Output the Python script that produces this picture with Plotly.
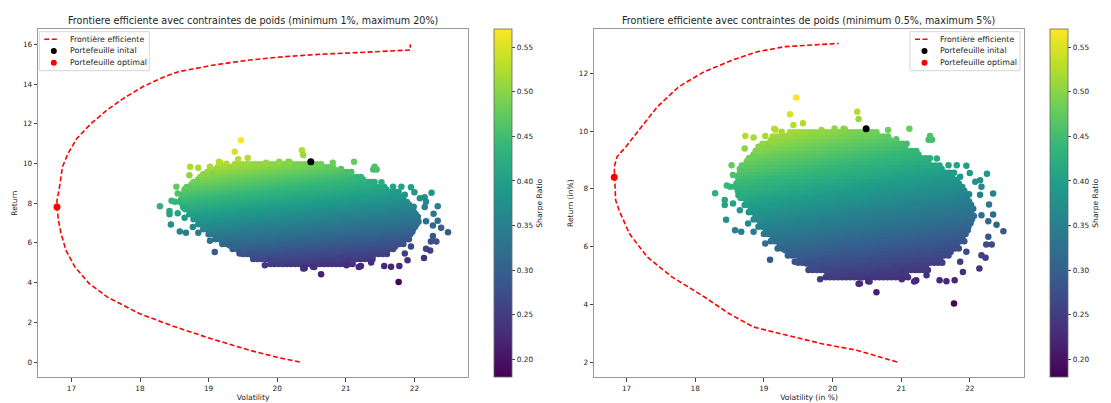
import numpy as np
import plotly.graph_objects as go

# ---------------- data ----------------
# Monte-Carlo cloud (identical in both panels): dense-body extents per return level
cloud_ret_levels = [5.00, 5.25, 5.50, 5.75, 6.00, 6.25, 6.50, 6.75, 7.00, 7.25, 7.50,
                    7.75, 8.00, 8.25, 8.50, 8.75, 9.00, 9.25, 9.50, 9.75, 9.90]
cloud_vol_min = [19.90, 19.65, 19.50, 19.35, 19.20, 19.10, 19.00, 18.92, 18.85, 18.78, 18.72,
                 18.66, 18.62, 18.60, 18.62, 18.65, 18.75, 18.85, 18.95, 19.10, 19.35]
cloud_vol_max = [21.10, 21.40, 21.60, 21.73, 21.85, 21.92, 21.97, 22.03, 22.06, 22.06, 22.04,
                 22.00, 21.93, 21.86, 21.78, 21.60, 21.42, 21.27, 21.10, 20.85, 20.65]

# isolated portfolios scattered around the dense body
outlier_vol = [19.47, 19.38, 20.36, 20.38, 20.16, 21.12, 21.40, 21.45, 21.42,
               18.73, 18.85, 19.02, 19.17, 19.15, 19.26, 19.43, 19.57, 19.84, 20.03, 20.18,
               18.72, 18.84, 18.92, 19.06, 18.53, 18.55, 18.58, 18.51, 18.55, 18.65, 18.63,
               18.29, 18.46, 18.43, 18.43, 18.45, 18.58, 18.67, 18.77, 18.85, 19.09, 19.82,
               19.02, 19.26, 19.31, 19.45, 19.62, 19.89,
               20.81, 20.93, 21.52, 21.69, 21.81, 21.73, 21.86,
               22.25, 22.15, 22.17, 22.15, 22.34, 22.28, 22.17, 22.34, 22.27, 22.39, 22.49,
               22.27, 22.24, 22.32, 22.17, 22.23, 22.14,
               21.95, 21.86, 21.90, 21.78, 21.66, 21.56, 21.37, 21.22, 21.03, 20.93,
               20.64, 21.77, 20.52, 20.40, 21.21, 20.38, 20.54, 21.01, 21.19,
               21.95, 22.00, 22.08]
outlier_ret = [11.17, 10.59, 10.67, 10.42, 10.08, 10.08, 9.70, 9.70, 9.83,
               9.83, 9.78, 9.83, 10.05, 10.08, 9.98, 10.21, 10.27, 10.04, 10.09, 10.07,
               9.40, 9.11, 9.46, 9.40, 8.82, 8.48, 8.07, 8.07, 7.49, 7.26, 7.78,
               7.85, 8.12, 7.61, 7.44, 6.93, 6.57, 6.51, 6.80, 6.51, 5.54, 4.87,
               6.11, 6.16, 5.87, 5.47, 5.41, 5.18,
               10.04, 9.72, 9.05, 8.82, 8.82, 8.53, 8.42,
               8.52, 8.30, 8.07, 7.80, 7.84, 7.46, 7.09, 7.11, 6.88, 6.76, 6.53,
               6.34, 6.07, 6.07, 5.70, 5.61, 5.24,
               5.82, 5.47, 5.12, 4.83, 4.80, 4.83, 5.01, 4.83, 5.12, 5.24,
               4.42, 4.03, 4.80, 4.72, 4.82, 4.71, 4.79, 4.87, 4.79,
               8.80, 8.55, 8.25]

# initial portfolio
init_vol, init_ret = 20.49, 10.08

# left panel: efficient frontier (min 1%, max 20%)
left_front_vol = [20.33, 20.02, 19.60, 19.03, 18.51, 17.99, 17.52, 17.26, 17.05, 16.92, 16.85,
                  16.81, 16.79, 16.79, 16.82, 16.87, 16.95, 17.08, 17.29, 17.52, 17.76, 18.04,
                  18.33, 18.56, 19.08, 19.60, 20.12, 20.64, 21.16, 21.94, 21.94]
left_front_ret = [0.00, 0.22, 0.59, 1.18, 1.77, 2.44, 3.28, 3.95, 4.79, 5.63, 6.47,
                  7.14, 7.81, 8.15, 8.66, 9.83, 10.50, 11.26, 12.02, 12.69, 13.28, 13.86,
                  14.33, 14.62, 14.96, 15.21, 15.38, 15.50, 15.58, 15.71, 16.00]
left_opt_vol, left_opt_ret = 16.79, 7.81

# right panel: efficient frontier (min 0.5%, max 5%)
right_front_vol = [20.94, 20.35, 19.83, 19.31, 18.85, 18.49, 18.13, 17.66, 17.30, 17.04, 16.89,
                   16.84, 16.82, 16.82, 16.86, 16.99, 17.20, 17.45, 17.76, 18.13, 18.54, 18.90,
                   19.31, 19.68, 20.09]
right_front_ret = [2.00, 2.41, 2.64, 2.93, 3.21, 3.68, 4.26, 4.95, 5.64, 6.45, 7.26,
                   7.61, 8.40, 8.76, 9.11, 9.46, 10.10, 10.85, 11.54, 12.06, 12.46, 12.75,
                   12.93, 12.99, 13.04]
right_opt_vol, right_opt_ret = 16.82, 8.40

titles = ["Frontiere efficiente avec contraintes de poids (minimum 1%, maximum 20%)",
          "Frontiere efficiente avec contraintes de poids (minimum 0.5%, maximum 5%)"]
x_titles = ["Volatility", "Volatility (in %)"]
y_titles = ["Return", "Return (in%)"]
legend_labels = ["Frontière efficiente", "Portefeuille inital", "Portefeuille optimal"]
x_ticks = [17, 18, 19, 20, 21, 22]
left_y_ticks = [0, 2, 4, 6, 8, 10, 12, 14, 16]
right_y_ticks = [2, 4, 6, 8, 10, 12]
cbar_ticks = [0.20, 0.25, 0.30, 0.35, 0.40, 0.45, 0.50, 0.55]

# ---------------- build the cloud markers ----------------
vols, rets = [], []
for k, (r, lo, hi) in enumerate(zip(cloud_ret_levels, cloud_vol_min, cloud_vol_max)):
    for j, dr in enumerate((-0.0625, 0.0625)):
        off = 0.03 if (2 * k + j) % 2 else 0.0
        for v in np.arange(lo + off, hi + 1e-9, 0.06):
            vols.append(round(float(v), 3))
            rets.append(r + dr)
vols += outlier_vol
rets += outlier_ret
vols = np.array(vols)
rets = np.array(rets)
sharpe = rets / vols          # Sharpe ratio (risk-free = 0)

W, H = 1111, 403
def px_x(p): return p / W
def px_y(p): return 1 - p / H

panels = [
    dict(xd=[px_x(38.2), px_x(467.9)], xr=[16.516, 22.78], yr=[-0.77, 16.77], yt=left_y_ticks,
         fv=left_front_vol, fr=left_front_ret, ov=left_opt_vol, orr=left_opt_ret,
         cbx=px_x(494.3), leg_left=39.3),
    dict(xd=[px_x(594.0), px_x(1024.0)], xr=[16.525, 22.79], yr=[1.47, 13.54], yt=right_y_ticks,
         fv=right_front_vol, fr=right_front_ret, ov=right_opt_vol, orr=right_opt_ret,
         cbx=px_x(1050.4), leg_left=910.0),
]
ydom = [px_y(377.3), px_y(29.0)]

FONT = "DejaVu Sans"
TXT = "#222222"
fig = go.Figure()
shapes, annotations = [], []

for i, p in enumerate(panels):
    sfx = "" if i == 0 else "2"
    xa, ya = "x" + sfx, "y" + sfx
    fig.add_trace(go.Scatter(
        x=vols, y=rets, mode="markers", xaxis=xa, yaxis=ya, showlegend=False,
        marker=dict(size=6.5, color=sharpe, colorscale="Viridis", cmin=0.18, cmax=0.57,
                    line=dict(width=0),
                    colorbar=dict(x=p["cbx"], xanchor="left", xpad=0, ypad=0,
                                  y=ydom[0], yanchor="bottom", len=ydom[1] - ydom[0],
                                  lenmode="fraction", thickness=18, thicknessmode="pixels",
                                  outlinewidth=0.8, outlinecolor="#666",
                                  tickvals=cbar_ticks, ticktext=[f"{t:.2f}" for t in cbar_ticks],
                                  ticks="outside", ticklen=3.5, tickcolor="#444",
                                  tickfont=dict(size=7.3, color=TXT, family=FONT),
                                  title=dict(text="Sharpe Ratio", side="right",
                                             font=dict(size=7.6, color=TXT, family=FONT))))))
    fig.add_trace(go.Scatter(
        x=p["fv"], y=p["fr"], mode="lines", xaxis=xa, yaxis=ya, showlegend=False,
        name=legend_labels[0], line=dict(color="red", width=1.6, dash="5px,2.5px")))
    fig.add_trace(go.Scatter(
        x=[init_vol], y=[init_ret], mode="markers", xaxis=xa, yaxis=ya, showlegend=False,
        name=legend_labels[1], marker=dict(size=7, color="black")))
    fig.add_trace(go.Scatter(
        x=[p["ov"]], y=[p["orr"]], mode="markers", xaxis=xa, yaxis=ya, showlegend=False,
        name=legend_labels[2], marker=dict(size=7, color="red")))

    axcommon = dict(showgrid=False, zeroline=False, showline=True, mirror=True,
                    linecolor="#9a9a9a", linewidth=1, ticks="outside", ticklen=3.5,
                    tickcolor="#444", tickwidth=0.8,
                    tickfont=dict(size=7.3, color=TXT, family=FONT))
    fig.update_layout(**{
        "xaxis" + sfx: dict(axcommon, domain=p["xd"], range=p["xr"], anchor=ya,
                            tickvals=x_ticks,
                            title=dict(text=x_titles[i], standoff=3,
                                       font=dict(size=7.6, color=TXT, family=FONT))),
        "yaxis" + sfx: dict(axcommon, domain=ydom, range=p["yr"], anchor=xa,
                            tickvals=p["yt"],
                            title=dict(text=y_titles[i], standoff=4,
                                       font=dict(size=7.6, color=TXT, family=FONT))),
    })
    annotations.append(dict(
        text=titles[i], x=(p["xd"][0] + p["xd"][1]) / 2, y=px_y(20), xref="paper", yref="paper",
        xanchor="center", yanchor="middle", showarrow=False,
        font=dict(size=9.6, color=TXT, family=FONT)))

    # legend box (matplotlib style)
    L = p["leg_left"]
    shapes.append(dict(type="rect", xref="paper", yref="paper", layer="above",
                       x0=px_x(L), x1=px_x(L + 110), y0=px_y(70.7), y1=px_y(31.7),
                       line=dict(color="#d6d6d6", width=1), fillcolor="rgba(255,255,255,0.8)"))
    rows = [39.2, 51.0, 62.8]
    shapes.append(dict(type="line", xref="paper", yref="paper", layer="above",
                       x0=px_x(L + 5), x1=px_x(L + 20), y0=px_y(rows[0]), y1=px_y(rows[0]),
                       line=dict(color="red", width=1.6, dash="5px,2.5px")))
    for row, col in ((rows[1], "black"), (rows[2], "red")):
        cx = L + 14.5
        shapes.append(dict(type="circle", xref="paper", yref="paper", layer="above",
                           x0=px_x(cx - 3), x1=px_x(cx + 3), y0=px_y(row + 3), y1=px_y(row - 3),
                           line=dict(width=0), fillcolor=col))
    for row, lab in zip(rows, legend_labels):
        annotations.append(dict(text=lab, x=px_x(L + 28.4), y=px_y(row), xref="paper",
                                yref="paper", xanchor="left", yanchor="middle", showarrow=False,
                                font=dict(size=7.9, color=TXT, family=FONT)))

fig.update_layout(width=W, height=H, margin=dict(l=0, r=0, t=0, b=0),
                  plot_bgcolor="white", paper_bgcolor="white", showlegend=False,
                  font=dict(family=FONT, size=7.5, color=TXT),
                  shapes=shapes, annotations=annotations)
fig.write_html("out.html")
